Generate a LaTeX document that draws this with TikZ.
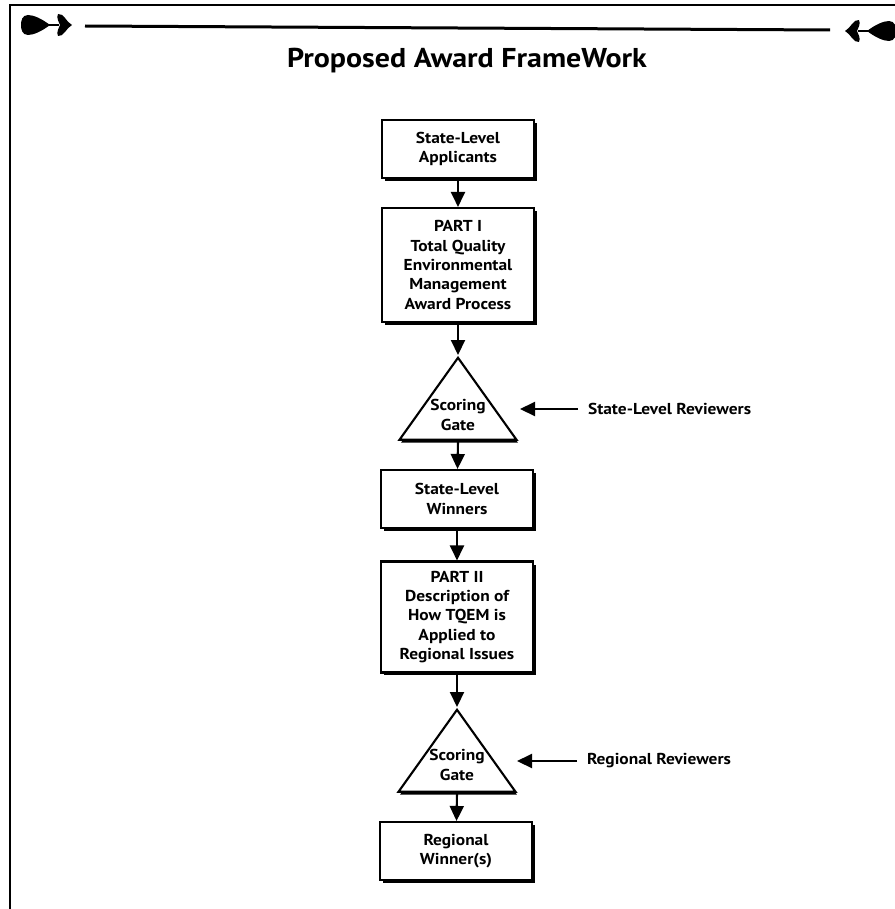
\documentclass[tikz,border=0pt]{standalone}
\usepackage{fontspec}
\setmainfont{PT Sans}
\newfontfamily\wideptsans[FakeStretch=1.1]{PT Sans}
\usetikzlibrary{arrows.meta,shapes.geometric,shadows}

\begin{document}
\begin{tikzpicture}[x=0.02cm,y=-0.02cm,line width=1.2pt,>={Triangle[length=0.3cm,width=0.28cm]}]
\tikzstyle{box}=[rectangle,draw,fill=white,minimum width=3.04cm,align=center,
    font=\wideptsans\bfseries\fontsize{9}{11}\selectfont,
    drop shadow={shadow xshift=0.06cm,shadow yshift=-0.06cm,opacity=1,fill=black}]
\tikzstyle{gate}=[isosceles triangle,isosceles triangle stretches,shape border rotate=90,
    draw,fill=white,minimum width=2.34cm,minimum height=1.64cm,inner sep=0pt,anchor=apex,
    drop shadow={shadow xshift=0.03cm,shadow yshift=-0.06cm,opacity=1,fill=black}]
\tikzstyle{gatetext}=[align=center,inner sep=0pt,font=\wideptsans\bfseries\fontsize{9}{11}\selectfont]
\tikzstyle{reviewer}=[anchor=west,inner xsep=0.18cm,inner ysep=0pt,font=\wideptsans\bfseries\fontsize{9}{11}\selectfont]

\useasboundingbox (0,0) rectangle (895,909);

% frame and heading
\draw [line width=1.3pt] (10,909) -- (10,5) -- (895,5);
\draw [line width=0.06cm] (85,26) -- (830,30);
\foreach \s/\f/\h in {1/0/25, -1/917/31}{
  \begin{scope}[shift={(\f,\h)},xscale=\s]
    \fill (50,0) .. controls (42,-6) and (34,-10) .. (28,-10)
      .. controls (22,-10) and (21,-4) .. (21,0)
      .. controls (21,4) and (22,10) .. (28,10)
      .. controls (34,10) and (42,6) .. (50,0) -- cycle;
    \fill (49,-1) rectangle (59,1);
    \fill (72,0) .. controls (66,-3) and (64,-12) .. (58,-11)
      .. controls (56,-7) and (59,-3) .. (60,0)
      .. controls (59,3) and (56,7) .. (58,11)
      .. controls (64,12) and (66,3) .. (72,0) -- cycle;
  \end{scope}
}
\node (title) at (467,61) {\wideptsans\bfseries\fontsize{15.5}{18}\selectfont Proposed Award FrameWork};

\node (apply) at (458,149) [box,minimum height=1.16cm] {State-Level\\Applicants};
\node (part1) at (458,265) [box,minimum height=2.28cm] {PART I\\Total Quality\\Environmental\\Management\\Award Process};
\node (gate1) at (458,355) [gate] {};
\node (gate1t) at (458,415) [gatetext] {Scoring\\Gate};
\node (win1) at (457,499) [box,minimum height=1.16cm] {State-Level\\Winners};
\node (part2) at (457,617) [box,minimum height=2.22cm] {PART II\\Description of\\How TQEM is\\Applied to\\Regional Issues};
\node (gate2) at (457,707) [gate] {};
\node (gate2t) at (457,765) [gatetext] {Scoring\\Gate};
\node (win2) at (456,851) [box,minimum height=1.16cm] {Regional\\Winner(s)};

\node (rev1) at (578,409) [reviewer] {State-Level Reviewers};
\node (rev2) at (577,761) [reviewer] {Regional Reviewers};
\coordinate (in1) at (520,409);
\coordinate (in2) at (517,761);

\draw [->] (apply) to (part1);
\draw [->] (part1) to (gate1.apex);
\draw [->] (gate1.south) to (win1);
\draw [->] (win1) to (part2);
\draw [->] (part2) to (gate2.apex);
\draw [->] (gate2.south) to (win2);

\draw [->] (rev1) to (in1);
\draw [->] (rev2) to (in2);

\end{tikzpicture}
\end{document}
